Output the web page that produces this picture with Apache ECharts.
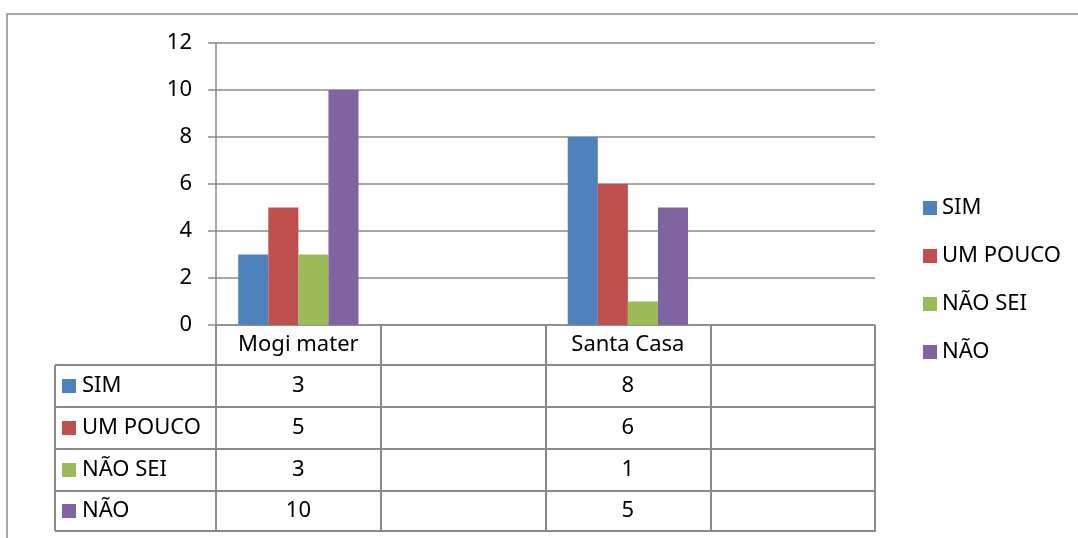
<!DOCTYPE html>
<html>
<head>
<meta charset="utf-8">
<script src="https://cdn.jsdelivr.net/npm/echarts@6/dist/echarts.min.js"></script>
<style>
html,body{margin:0;padding:0;background:#fff;}
#chart{width:1078px;height:538px;}
</style>
</head>
<body>
<div id="chart"></div>
<script>
// ---- data ----
const categories = ['Mogi mater', '', 'Santa Casa', ''];
const seriesNames = ['SIM', 'UM POUCO', 'NÃO SEI', 'NÃO'];
const simValues = [3, null, 8, null];
const umPoucoValues = [5, null, 6, null];
const naoSeiValues = [3, null, 1, null];
const naoValues = [10, null, 5, null];
const yTicks = [0, 2, 4, 6, 8, 10, 12];

// ---- style / layout ----
const colors = ['#4F81BD', '#C0504D', '#9BBB59', '#8064A2'];
const FONT = 'Noto Sans';
const FS = 22;
const GRID = { left: 216, right: 203, top: 43, bottom: 213 };
const PLOT_BOTTOM = 538 - GRID.bottom; // 325
const HEADER_H = 40;
const ROW_H = [42, 42, 42, 40];
const LINE_COLOR = '#8a8a8a';
const TABLE_LEFT = 55;

const allValues = [simValues, umPoucoValues, naoSeiValues, naoValues];

// row offsets
const rowOffsets = [];
let acc = HEADER_H;
for (let i = 0; i < ROW_H.length; i++) { rowOffsets.push(acc); acc += ROW_H[i]; }
const tableBottomOffset = acc;

const xAxes = [{
  type: 'category', data: categories, position: 'bottom', gridIndex: 0,
  axisLine: { show: true, lineStyle: { color: LINE_COLOR, width: 1.5 } },
  axisTick: { show: true, length: HEADER_H, interval: 0, lineStyle: { color: LINE_COLOR, width: 2 } },
  axisLabel: { interval: 0, margin: HEADER_H / 2, verticalAlign: 'middle', color: '#000', fontFamily: FONT, fontSize: FS },
  splitLine: { show: false }
}];
allValues.forEach((vals, si) => {
  xAxes.push({
    type: 'category', data: categories, position: 'bottom', gridIndex: 0, offset: rowOffsets[si],
    axisLine: { show: true, lineStyle: { color: LINE_COLOR, width: 2 } },
    axisTick: { show: true, length: ROW_H[si], interval: 0, lineStyle: { color: LINE_COLOR, width: 2 } },
    axisLabel: {
      interval: 0, margin: ROW_H[si] / 2, verticalAlign: 'middle', color: '#000', fontFamily: FONT, fontSize: FS,
      formatter: (v, idx) => (vals[idx] == null ? '' : String(vals[idx]))
    },
    splitLine: { show: false }
  });
});
xAxes.push({
  type: 'category', data: categories, position: 'bottom', gridIndex: 0, offset: tableBottomOffset,
  axisLine: { show: true, lineStyle: { color: LINE_COLOR, width: 2 } },
  axisTick: { show: false }, axisLabel: { show: false }, splitLine: { show: false }
});

// left column of the data table
const graphics = [];
graphics.push({ type: 'rect', shape: { x: 7, y: 14, width: 1200, height: 700 }, style: { fill: 'none', stroke: '#8c8c8c', lineWidth: 1.5 }, silent: true });
const tableTop = PLOT_BOTTOM + HEADER_H;
const tableBot = PLOT_BOTTOM + tableBottomOffset;
graphics.push({ type: 'line', shape: { x1: TABLE_LEFT, y1: tableTop, x2: TABLE_LEFT, y2: tableBot }, style: { stroke: LINE_COLOR, lineWidth: 2 } });
graphics.push({ type: 'line', shape: { x1: TABLE_LEFT, y1: tableBot, x2: GRID.left, y2: tableBot }, style: { stroke: LINE_COLOR, lineWidth: 2 } });
seriesNames.forEach((name, si) => {
  const yTop = PLOT_BOTTOM + rowOffsets[si];
  const yc = yTop + ROW_H[si] / 2;
  graphics.push({ type: 'line', shape: { x1: TABLE_LEFT, y1: yTop, x2: GRID.left, y2: yTop }, style: { stroke: LINE_COLOR, lineWidth: 2 } });
  graphics.push({ type: 'rect', shape: { x: 62, y: yc - 7, width: 14, height: 14 }, style: { fill: colors[si] } });
  graphics.push({ type: 'text', x: 82, y: yc, style: { text: name, fontFamily: FONT, fontSize: FS, fill: '#000', verticalAlign: 'middle', align: 'left' } });
});

const option = {
  animation: false,
  backgroundColor: '#fff',
  color: colors,
  grid: GRID,
  legend: {
    orient: 'vertical', left: 918, top: 192, itemWidth: 14, itemHeight: 14, itemGap: 26,
    icon: 'rect', data: seriesNames,
    textStyle: { fontFamily: FONT, fontSize: FS, color: '#000', padding: [0, 0, 0, 0] }
  },
  xAxis: xAxes,
  yAxis: {
    type: 'value', min: yTicks[0], max: yTicks[yTicks.length - 1], interval: yTicks[1] - yTicks[0],
    axisLine: { show: true, lineStyle: { color: LINE_COLOR, width: 1.5 } },
    axisTick: { show: true, length: 8, lineStyle: { color: LINE_COLOR, width: 1.5 } },
    axisLabel: { margin: 24, color: '#000', fontFamily: FONT, fontSize: FS },
    splitLine: { show: true, lineStyle: { color: LINE_COLOR, width: 1.5 } }
  },
  series: seriesNames.map((name, si) => ({
    name, type: 'bar', xAxisIndex: 0, data: allValues[si].map(v => (v == null ? '-' : v)),
    barGap: '0%', barCategoryGap: '27%'
  })),
  graphic: graphics
};

const chart = echarts.init(document.getElementById('chart'), null, { renderer: 'canvas' });
chart.setOption(option);
</script>
</body>
</html>
